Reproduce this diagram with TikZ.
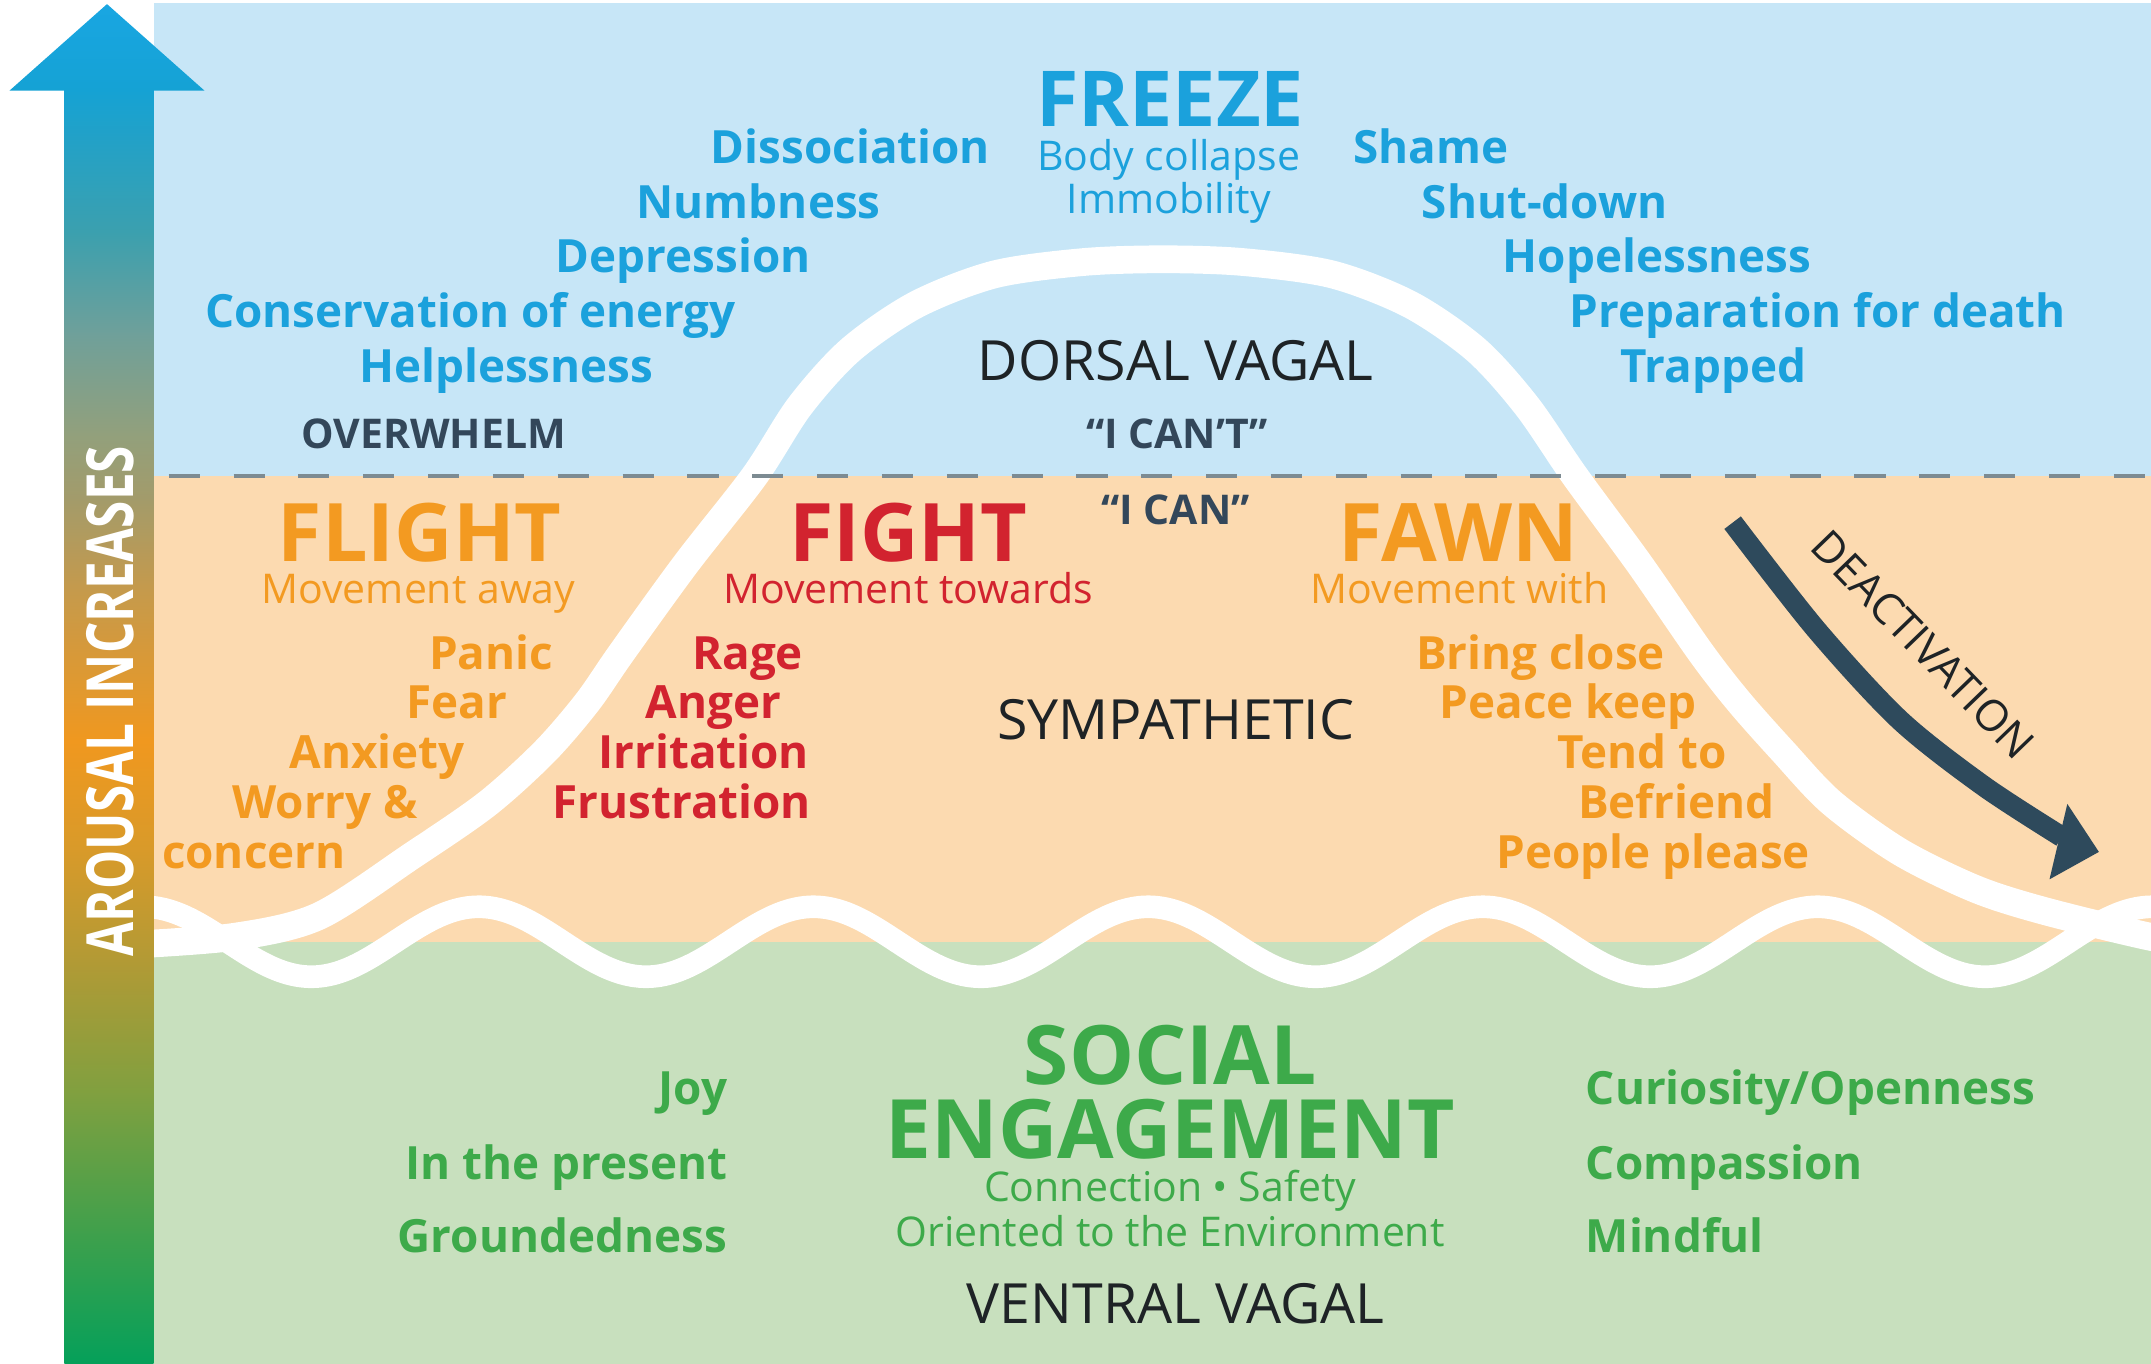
\documentclass[tikz,border=0pt]{standalone}
\usepackage{fontspec}
\setmainfont{Open Sans}
\usepackage{graphicx}
\usetikzlibrary{arrows.meta}
\definecolor{bgblue}{HTML}{C7E6F7}
\definecolor{bgpeach}{HTML}{FCDAB0}
\definecolor{bggreen}{HTML}{C8E0BE}
\definecolor{tblue}{HTML}{1BA1DC}
\definecolor{torange}{HTML}{F39A21}
\definecolor{tred}{HTML}{D2232F}
\definecolor{tgreen}{HTML}{3DAA4A}
\definecolor{slate}{HTML}{33475A}
\definecolor{ink}{HTML}{1E2326}
\definecolor{dashgray}{HTML}{7D8B92}
\definecolor{arrowslate}{HTML}{2E4A5C}
\definecolor{a0}{HTML}{19A6E2}
\definecolor{a1}{HTML}{15A2D4}
\definecolor{a2}{HTML}{3CA0AE}
\definecolor{a3}{HTML}{6FA09A}
\definecolor{a4}{HTML}{92A07C}
\definecolor{a5}{HTML}{A39B6A}
\definecolor{a6}{HTML}{C39A4E}
\definecolor{a7}{HTML}{F0981F}
\definecolor{a8}{HTML}{D89A2A}
\definecolor{a9}{HTML}{B29A35}
\definecolor{a10}{HTML}{7EA040}
\definecolor{a11}{HTML}{3EA04C}
\definecolor{a12}{HTML}{05A05A}
\tikzset{
  lbl/.style={inner sep=0pt, outer sep=0pt, text depth=0pt},
  headtxt/.style={lbl, font=\fontsize{32}{36}\selectfont\bfseries, text height=22.8pt},
  modehead/.style={lbl, font=\fontsize{33.5}{37}\selectfont\bfseries, text height=23.9pt},
  bighead/.style={lbl, font=\fontsize{34}{38}\selectfont\bfseries, text=tgreen, text height=24.3pt},
  subtxt/.style={lbl, font=\fontsize{17}{20}\selectfont, text height=12.1pt},
  itemtxt/.style={lbl, font=\fontsize{19}{22}\selectfont\bfseries, text height=13.6pt},
  zonetxt/.style={lbl, font=\fontsize{23}{26}\selectfont, text=ink, text height=16.4pt},
  tagtxt/.style={lbl, font=\fontsize{17}{20}\selectfont\bfseries, text=slate, text height=12.1pt},
  wave/.style={white, line width=9.4pt, line cap=round},
  bell/.style={white, line width=11.5pt, line cap=round},
}
\begin{document}
\begin{tikzpicture}[x=0.02cm, y=-0.02cm]
\useasboundingbox (0,0) rectangle (1568,994);
\fill[white] (0,0) rectangle (1568,994);
% zones
\fill[bgblue] (112,2) rectangle (1568,347);
\fill[bgpeach] (112,347) rectangle (1568,687);
\fill[bggreen] (112,687) rectangle (1568,994);
% white curves
\begin{scope}
\clip (112,2) rectangle (1568,994);
\draw[wave] plot[domain=100:1600, samples=300, smooth] (\x,{686.5-25.5*cos((\x-349)*1.47541)});
\draw[bell] plot[smooth] coordinates {(90,689) (170,683) (232,668) (300,624) (355,586) (397,548) (428,512) (453,476) (500,411) (550,347) (583,296) (620,255) (668,222) (725,200) (790,191) (848,189) (906,191) (971,200) (1028,222) (1076,255) (1113,296) (1148,347) (1195,411) (1240,476) (1268,512) (1300,548) (1335,585) (1385,621) (1440,648) (1490,664) (1568,683) (1610,689)};
\end{scope}
% dashed border
\draw[dashgray, line width=2pt, dash pattern=on 12.9pt off 14pt] (123,347) -- (1568,347);
% arousal arrow
\shade[top color=a1, bottom color=a2] (47,65) rectangle (112,171);
\shade[top color=a2, bottom color=a3] (47,170) rectangle (112,244);
\shade[top color=a3, bottom color=a4] (47,243) rectangle (112,317);
\shade[top color=a4, bottom color=a5] (47,316) rectangle (112,365);
\shade[top color=a5, bottom color=a6] (47,364) rectangle (112,426);
\shade[top color=a6, bottom color=a7] (47,425) rectangle (112,541);
\shade[top color=a7, bottom color=a8] (47,540) rectangle (112,621);
\shade[top color=a8, bottom color=a9] (47,620) rectangle (112,701);
\shade[top color=a9, bottom color=a10] (47,700) rectangle (112,801);
\shade[top color=a10, bottom color=a11] (47,800) rectangle (112,901);
\shade[top color=a11, bottom color=a12] (47,900) rectangle (112,994);
\shade[top color=a0, bottom color=a1] (7,66) -- (78,3) -- (149,66) -- cycle;
\node[lbl, rotate=90, text=white, font=\fontsize{27}{30}\selectfont\bfseries, text height=19.3pt] (arousal) at (80,511) {\scalebox{0.76}[1]{AROUSAL INCREASES}};
% FREEZE zone
\node[headtxt, text=tblue] (freeze) at (853,72) {FREEZE};
\node[subtxt, text=tblue] (collapse) at (852,114) {Body collapse};
\node[subtxt, text=tblue] (immob) at (852,145) {Immobility};
\node[itemtxt, text=tblue] (diss) at (620,107) {Dissociation};
\node[itemtxt, text=tblue] (numb) at (553,147) {Numbness};
\node[itemtxt, text=tblue] (depr) at (498,187) {Depression};
\node[itemtxt, text=tblue] (cons) at (343,227) {Conservation of energy};
\node[itemtxt, text=tblue] (help) at (369,267) {Helplessness};
\node[itemtxt, text=tblue] (shame) at (1043,107) {Shame};
\node[itemtxt, text=tblue] (shut) at (1126,147) {Shut-down};
\node[itemtxt, text=tblue] (hope) at (1208,187) {Hopelessness};
\node[itemtxt, text=tblue] (prep) at (1325,227) {Preparation for death};
\node[itemtxt, text=tblue] (trap) at (1249,267) {Trapped};
\node[tagtxt] (overwhelm) at (316,316) {OVERWHELM};
\node[zonetxt] (dorsal) at (857,263) {DORSAL VAGAL};
\node[tagtxt] (icant) at (858,316) {“I CAN’T”};
\node[tagtxt] (ican) at (857,372) {“I CAN”};
% SYMPATHETIC zone
\node[modehead, text=torange] (flight) at (306,388) {FLIGHT};
\node[subtxt, text=torange] (away) at (305,429) {Movement away};
\node[itemtxt, text=torange] (panic) at (358,476) {Panic};
\node[itemtxt, text=torange] (fear) at (333,512) {Fear};
\node[itemtxt, text=torange] (anx) at (275,548) {Anxiety};
\node[itemtxt, text=torange] (worry) at (237,585) {Worry \&};
\node[itemtxt, text=torange] (concern) at (185,621) {concern};
\node[modehead, text=tred] (fight) at (662,388) {FIGHT};
\node[subtxt, text=tred] (towards) at (662,429) {Movement towards};
\node[itemtxt, text=tred] (rage) at (545,476) {Rage};
\node[itemtxt, text=tred] (anger) at (520,512) {Anger};
\node[itemtxt, text=tred] (irr) at (513,548) {Irritation};
\node[itemtxt, text=tred] (frus) at (497,585) {Frustration};
\node[zonetxt] (symp) at (857,525) {SYMPATHETIC};
\node[modehead, text=torange] (fawn) at (1063,388) {FAWN};
\node[subtxt, text=torange] (with) at (1064,429) {Movement with};
\node[itemtxt, text=torange] (bring) at (1123,476) {Bring close};
\node[itemtxt, text=torange] (peace) at (1143,512) {Peace keep};
\node[itemtxt, text=torange] (tend) at (1197,548) {Tend to};
\node[itemtxt, text=torange] (befr) at (1222,585) {Befriend};
\node[itemtxt, text=torange] (people) at (1205,621) {People please};
% deactivation arrow
\draw[arrowslate, line width=8.6pt] plot[smooth] coordinates {(1263,381) (1324,459) (1385,525) (1446,573) (1503,610)};
\fill[arrowslate] (1507,586) -- (1530,621) -- (1494,641) -- cycle;
\node[lbl, rotate=-46, text=ink, font=\fontsize{18}{20}\selectfont, text height=12.9pt] (deact) at (1402,470) {DEACTIVATION};
% VENTRAL zone
\node[bighead] (social) at (853,769) {SOCIAL};
\node[bighead] (engage) at (853,823) {ENGAGEMENT};
\node[subtxt, text=tgreen] (conn) at (853,865) {Connection • Safety};
\node[subtxt, text=tgreen] (orient) at (853,898) {Oriented to the Environment};
\node[zonetxt] (ventral) at (857,950) {VENTRAL VAGAL};
\node[itemtxt, text=tgreen, anchor=east] (joy) at (530,793) {Joy};
\node[itemtxt, text=tgreen, anchor=east] (present) at (530,848) {In the present};
\node[itemtxt, text=tgreen, anchor=east] (ground) at (530,901) {Groundedness};
\node[itemtxt, text=tgreen, anchor=west] (curio) at (1156,793) {Curiosity/Openness};
\node[itemtxt, text=tgreen, anchor=west] (comp) at (1156,848) {Compassion};
\node[itemtxt, text=tgreen, anchor=west] (mind) at (1156,901) {Mindful};
\end{tikzpicture}
\end{document}
